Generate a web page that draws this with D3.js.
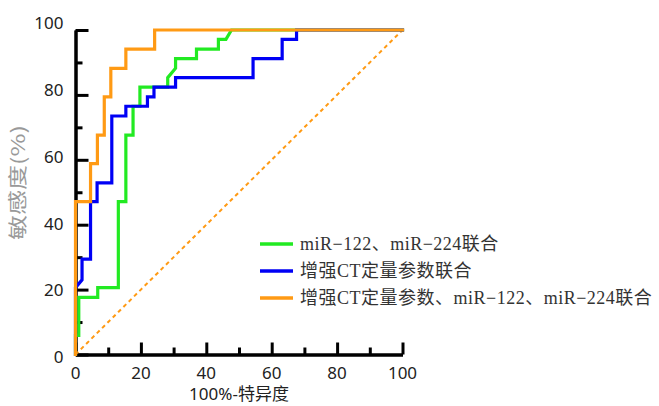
<!DOCTYPE html>
<html>
<head>
<meta charset="utf-8">
<script src="https://cdn.jsdelivr.net/npm/d3@7"></script>
<style>
  body { margin: 0; background: #fff; }
  svg { display: block; }
</style>
</head>
<body>
<div id="chart"></div>
<script>
// ROC curves, [100% - specificity, sensitivity] corner points
const mirCombo = [[0,0],[0,5.9],[1.0,5.9],[1.0,17.6],[6.8,17.6],[6.8,20.6],[13.1,20.6],[13.1,47.1],
  [15.4,47.1],[15.4,67.6],[17.6,67.6],[17.6,76.5],[19.7,76.5],[19.7,82.4],[28.2,82.4],[28.2,85.3],
  [30.6,88.2],[30.6,91.2],[37.0,91.2],[37.0,94.1],[43.7,94.1],[43.7,97.1],[46.0,97.1],[47.7,100],[100,100]];
const ctCombo = [[0,0],[0,20.6],[2.0,23.0],[2.0,29.4],[4.6,29.4],[4.6,47.1],[6.6,47.1],[6.6,52.9],
  [11.1,52.9],[11.1,73.5],[15.4,73.5],[15.4,76.5],[22.0,76.5],[22.0,79.4],[24.0,79.4],[24.0,82.4],
  [30.6,82.4],[30.6,85.3],[54.3,85.3],[54.3,91.2],[63.2,91.2],[63.2,97.1],[67.6,97.1],[67.6,100],[100,100]];
const allCombo = [[0,0],[0,47.1],[4.6,47.1],[4.6,58.8],[6.7,58.8],[6.7,67.6],[8.8,67.6],[8.8,79.4],
  [10.8,79.4],[10.8,88.2],[15.4,88.2],[15.4,94.1],[24.2,94.1],[24.2,100],[100,100]];
const refLine = [[0,0],[100,100]];

const seriesNames = ['miR\u2212122、miR\u2212224联合', '增强CT定量参数联合', '增强CT定量参数、miR\u2212122、miR\u2212224联合'];
const seriesColors = ['#22ea22', '#0000f5', '#ff9a14'];
const majorTicks = [0, 20, 40, 60, 80, 100];
const minorTicks = [10, 30, 50, 70, 90];

const W = 659, H = 406;

const svg = d3.select('#chart').append('svg')
  .attr('width', W).attr('height', H);

const x = d3.scaleLinear().domain([0, 100]).range([75.5, 402.5]);
const y = d3.scaleLinear().domain([0, 100]).range([354.5, 30]);
const yLab = d3.scaleLinear().domain([0, 100]).range([357, 23]); // labels sit slightly spread vs ticks

// axes: major + minor ticks pointing inward
function drawAxis(axis, cls) {
  const g = svg.append('g').attr('class', cls).call(axis);
  g.selectAll('text').remove();
  g.select('.domain').attr('stroke', '#000').attr('stroke-width', 3);
  g.selectAll('.tick line').attr('stroke', '#000').attr('stroke-width', 3);
  return g;
}
drawAxis(d3.axisBottom(x).tickValues(minorTicks).tickSizeInner(-7).tickSizeOuter(0), 'xminor')
  .attr('transform', `translate(0,${y(0)})`);
drawAxis(d3.axisBottom(x).tickValues(majorTicks).tickSizeInner(-12).tickSizeOuter(0), 'xmajor')
  .attr('transform', `translate(0,${y(0)})`);
drawAxis(d3.axisLeft(y).tickValues(minorTicks).tickSizeInner(-7).tickSizeOuter(0), 'yminor')
  .attr('transform', `translate(${x(0)},0)`);
drawAxis(d3.axisLeft(y).tickValues(majorTicks).tickSizeInner(-13).tickSizeOuter(0), 'ymajor')
  .attr('transform', `translate(${x(0)},0)`);

const tickFont = '"Noto Sans", "DejaVu Sans", sans-serif';

svg.append('g').selectAll('text')
  .data(majorTicks).enter().append('text')
  .attr('x', d => x(d)).attr('y', 379)
  .attr('text-anchor', 'middle')
  .attr('font-family', tickFont).attr('font-size', '17px').attr('fill', '#222')
  .text(d => d);

svg.append('g').selectAll('text')
  .data(majorTicks).enter().append('text')
  .attr('x', 63.5).attr('y', d => yLab(d)).attr('dy', '0.36em')
  .attr('text-anchor', 'end')
  .attr('font-family', tickFont).attr('font-size', '17px').attr('fill', '#222')
  .text(d => d);

// axis titles
svg.append('text')
  .attr('x', (x(0) + x(100)) / 2).attr('y', 400)
  .attr('text-anchor', 'middle')
  .attr('font-family', '"Noto Sans", "Noto Sans CJK SC", sans-serif')
  .attr('font-size', '17px').attr('fill', '#222')
  .text('100%-特异度');

svg.append('text')
  .attr('transform', 'translate(25,182.5) rotate(-90)')
  .attr('text-anchor', 'middle')
  .attr('font-family', '"Noto Sans CJK SC", sans-serif')
  .attr('font-size', '19px').attr('fill', '#999')
  .attr('textLength', 115).attr('lengthAdjust', 'spacingAndGlyphs')
  .text('敏感度(%)');

// curves
const line = d3.line().x(d => x(d[0])).y(d => y(d[1]));

svg.append('path')
  .datum(refLine)
  .attr('d', line)
  .attr('fill', 'none')
  .attr('stroke', seriesColors[2]).attr('stroke-width', 2)
  .attr('stroke-dasharray', '4,3.5');

[mirCombo, ctCombo, allCombo].forEach((pts, i) => {
  svg.append('path')
    .datum(pts)
    .attr('d', line)
    .attr('fill', 'none')
    .attr('stroke', seriesColors[i])
    .attr('stroke-width', 3.2)
    .attr('stroke-linejoin', 'miter')
    .attr('stroke-linecap', 'square');
});

// legend
const legend = svg.append('g').attr('transform', 'translate(260,244)');
const rows = legend.selectAll('g').data(seriesNames).enter().append('g')
  .attr('transform', (d, i) => `translate(0,${i * 27})`);
rows.append('line')
  .attr('x1', 0).attr('x2', 33).attr('y1', 0).attr('y2', 0)
  .attr('stroke', (d, i) => seriesColors[i]).attr('stroke-width', 3.5);
rows.append('text')
  .attr('x', 40).attr('y', 0).attr('dy', '0.35em')
  .attr('font-family', '"Liberation Serif", "Noto Sans CJK SC", serif')
  .attr('font-size', '18px').attr('letter-spacing', '0.5px').attr('fill', '#333')
  .text(d => d);
</script>
</body>
</html>
